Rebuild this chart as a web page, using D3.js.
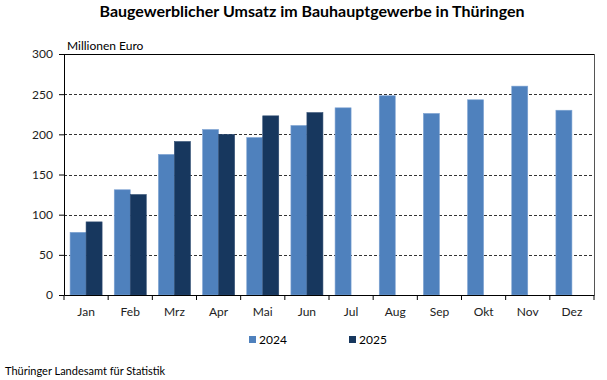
<!DOCTYPE html>
<html>
<head>
<meta charset="utf-8">
<script src="https://cdn.jsdelivr.net/npm/d3@7"></script>
<style>
  body { margin: 0; background: #fff; }
  svg { font-family: Lato, "Noto Sans", sans-serif; }
</style>
</head>
<body>
<div id="chart"></div>
<script>
// data
var months = ["Jan", "Feb", "Mrz", "Apr", "Mai", "Jun", "Jul", "Aug", "Sep", "Okt", "Nov", "Dez"];
var years = ["2024", "2025"];
var values2024 = [78, 131, 175, 206, 196, 211, 233, 248, 226, 243, 260, 230];
var values2025 = [91, 125, 191, 200, 223, 227];
var yTicks = [0, 50, 100, 150, 200, 250, 300];

var colors = { "2024": "#4f81bd", "2025": "#17375e" };

var margins = { left: 64, right: 13, top: 54, bottom: 85 };
var width = 607, height = 380;

var svg = d3.select("#chart")
  .append("svg")
  .attr("width", width)
  .attr("height", height);

var x = d3.scaleBand()
  .domain(months)
  .range([margins.left, width - margins.right]);

var xYear = d3.scaleBand()
  .domain(years)
  .range([0, x.bandwidth()])
  .paddingInner(0)
  .paddingOuter(0.38);

var y = d3.scaleLinear()
  .domain([0, 300])
  .range([height - margins.bottom, margins.top]);

// title
svg.append("text")
  .attr("x", 312)
  .attr("y", 17)
  .attr("text-anchor", "middle")
  .attr("font-size", 16)
  .attr("font-weight", "bold")
  .text("Baugewerblicher Umsatz im Bauhauptgewerbe in Thüringen");

// dashed grid
svg.append("g")
  .selectAll("line")
  .data(yTicks.filter(function(d) { return d > 0 && d < 300; }))
  .enter().append("line")
  .attr("x1", margins.left)
  .attr("x2", width - margins.right)
  .attr("y1", function(d) { return Math.round(y(d)) + 0.5; })
  .attr("y2", function(d) { return Math.round(y(d)) + 0.5; })
  .attr("stroke", "#333")
  .attr("stroke-dasharray", "3,2");

// bars
var rows = [];
months.forEach(function(m, i) {
  rows.push({ month: m, year: "2024", value: values2024[i] });
  if (values2025[i] !== undefined) rows.push({ month: m, year: "2025", value: values2025[i] });
});

svg.append("g")
  .selectAll("rect")
  .data(rows)
  .enter().append("rect")
  .attr("x", function(d) { return x(d.month) + xYear(d.year); })
  .attr("y", function(d) { return y(d.value); })
  .attr("width", xYear.bandwidth())
  .attr("height", function(d) { return y(0) - y(d.value); })
  .attr("fill", function(d) { return colors[d.year]; })
  .attr("stroke", function(d) { return d.year == "2024" ? "#7ea3d3" : "#2c4a70"; })
  .attr("stroke-width", 0.6);

// frame: top and right
svg.append("line")
  .attr("x1", margins.left).attr("x2", width - margins.right)
  .attr("y1", Math.round(y(300)) + 0.5).attr("y2", Math.round(y(300)) + 0.5)
  .attr("stroke", "#000").attr("stroke-width", 1.2);
svg.append("line")
  .attr("x1", width - margins.right + 0.5).attr("x2", width - margins.right + 0.5)
  .attr("y1", y(300)).attr("y2", y(0))
  .attr("stroke", "#555");

// y axis
var yAxis = svg.append("g")
  .attr("transform", "translate(" + margins.left + ",0)")
  .call(d3.axisLeft(y).tickValues(yTicks).tickSize(5).tickPadding(6));
yAxis.select(".domain").attr("stroke", "#000");
yAxis.selectAll("text").attr("font-size", 12).attr("fill", "#222")
  .attr("font-family", "Lato, sans-serif");

// x axis
var xAxis = svg.append("g")
  .attr("transform", "translate(0," + y(0) + ")")
  .call(d3.axisBottom(x).tickSize(0).tickPadding(12));
xAxis.select(".domain").attr("stroke", "#000");
xAxis.selectAll("text").attr("font-size", 12).attr("fill", "#222")
  .attr("font-family", "Lato, sans-serif");
xAxis.selectAll(".sep")
  .data(d3.range(months.length + 1))
  .enter().append("line")
  .attr("class", "sep")
  .attr("x1", function(i) { return margins.left + i * x.step(); })
  .attr("x2", function(i) { return margins.left + i * x.step(); })
  .attr("y1", 0).attr("y2", 5)
  .attr("stroke", "#000");

// unit label
svg.append("text")
  .attr("x", 67)
  .attr("y", 50)
  .attr("font-size", 12)
  .text("Millionen Euro");

// legend
var legend = svg.append("g")
  .selectAll("g")
  .data(years)
  .enter().append("g")
  .attr("transform", function(d, i) { return "translate(" + (249 + i * 100) + ",336)"; });
legend.append("rect")
  .attr("width", 7).attr("height", 7)
  .attr("fill", function(d) { return colors[d]; });
legend.append("text")
  .attr("x", 10).attr("y", 7.5)
  .attr("font-size", 12)
  .text(function(d) { return d; });

// source
svg.append("text")
  .attr("x", 5)
  .attr("y", 375)
  .attr("font-size", 11)
  .text("Thüringer Landesamt für Statistik");
</script>
</body>
</html>
